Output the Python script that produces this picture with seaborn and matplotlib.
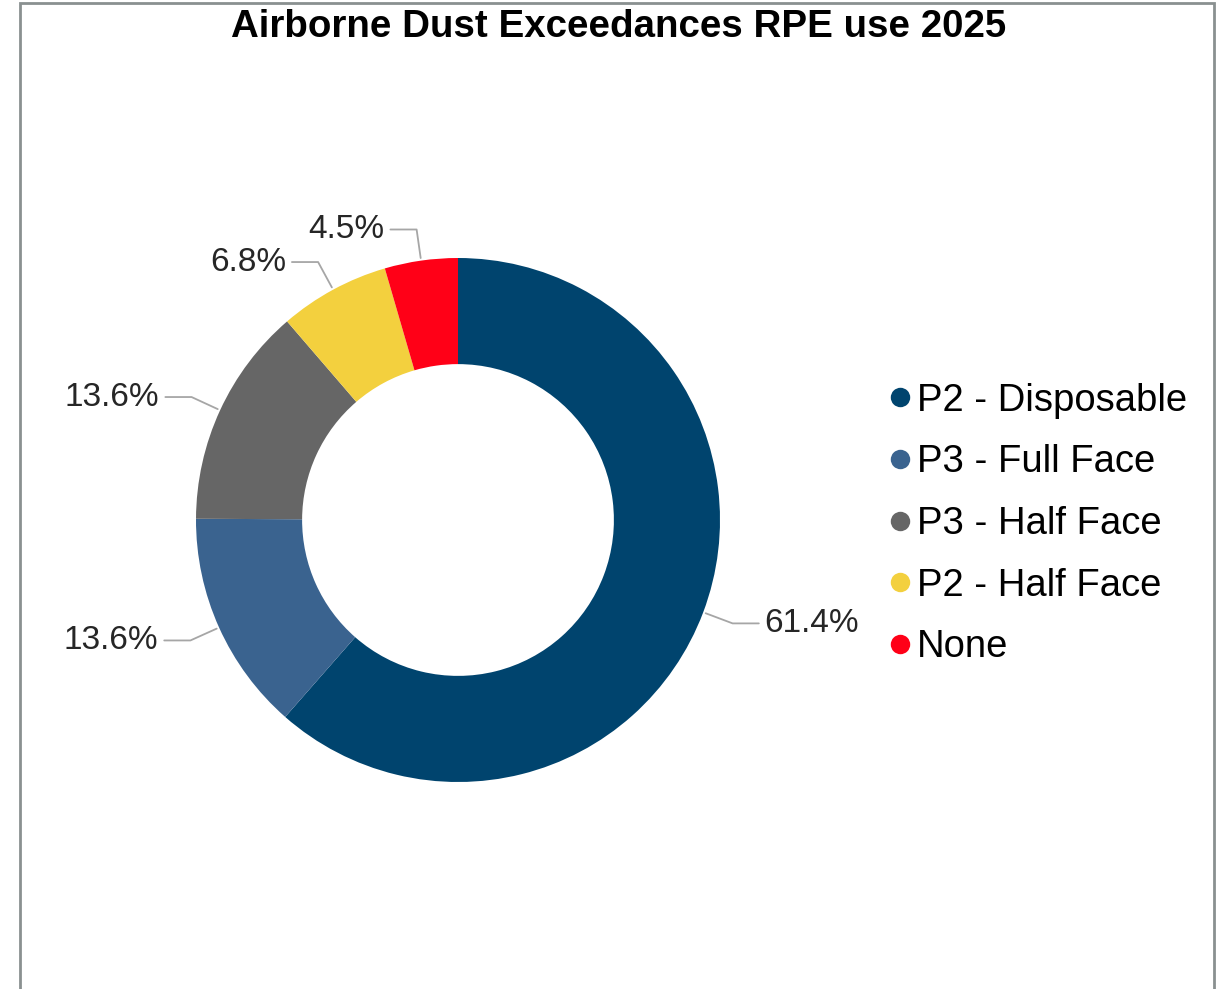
import numpy as np
import seaborn as sns
import matplotlib.pyplot as plt
from matplotlib.lines import Line2D
from matplotlib.patches import Rectangle

# data
categories = ["P2 - Disposable", "P3 - Full Face", "P3 - Half Face", "P2 - Half Face", "None"]
shares = [61.4, 13.6, 13.6, 6.8, 4.5]
colors = ["#00446E", "#3A638F", "#666666", "#F3D03E", "#FF0017"]
title = "Airborne Dust Exceedances RPE use 2025"

sns.set_theme(style="white")
plt.rcParams['font.family'] = ['Liberation Sans', 'DejaVu Sans']

W, H = 1223, 989
fig = plt.figure(figsize=(W / 100, H / 100), dpi=100)
fig.patch.set_facecolor("white")

# donut axes (outer radius = 1 in data units)
ax = fig.add_axes([196 / W, 1 - 782 / H, 524 / W, 524 / H])
wedges, _ = ax.pie(shares, colors=colors, startangle=90, counterclock=False,
                   radius=1.0, wedgeprops=dict(width=0.405, linewidth=0))
ax.set_xlim(-1, 1)
ax.set_ylim(-1, 1)
ax.set_aspect("equal")
ax.axis("off")

# outside labels with elbow leader lines
for w, v in zip(wedges, shares):
    mid = np.deg2rad((w.theta1 + w.theta2) / 2)
    cx, cy = np.cos(mid), np.sin(mid)
    side = 1 if cx >= 0 else -1
    x0, y0 = 1.01 * cx, 1.01 * cy
    x1, y1 = 1.12 * cx, 1.12 * cy
    x2 = x1 + side * 0.10
    ax.plot([x0, x1, x2], [y0, y1, y1], color="#A6A6A6", lw=1.3, clip_on=False)
    ax.text(x2 + side * 0.022, y1, f"{v:.1f}%", ha="left" if side > 0 else "right",
            va="center", fontsize=24, color="#262626", clip_on=False)

# legend with round markers
handles = [Line2D([0], [0], marker="o", linestyle="", markersize=14,
                  markerfacecolor=c, markeredgewidth=0) for c in colors]
fig.legend(handles, categories, loc="center left",
           bbox_to_anchor=(890 / W, 1 - 524 / H), frameon=False,
           fontsize=27.5, handlelength=0.5, handletextpad=0.2,
           labelspacing=0.67, borderpad=0, borderaxespad=0, labelcolor="black")

fig.text(619 / W, 1 - 27 / H, title, ha="center", va="center",
         fontsize=27.7, fontweight="bold", color="black")

# outer chart frame
fig.patches.append(Rectangle((20 / W, -0.05), 1194 / W, 1.05 - 3 / H,
                             transform=fig.transFigure, fill=False,
                             edgecolor="#8A9090", lw=2))

plt.savefig("out.png", dpi=100, facecolor="white")
